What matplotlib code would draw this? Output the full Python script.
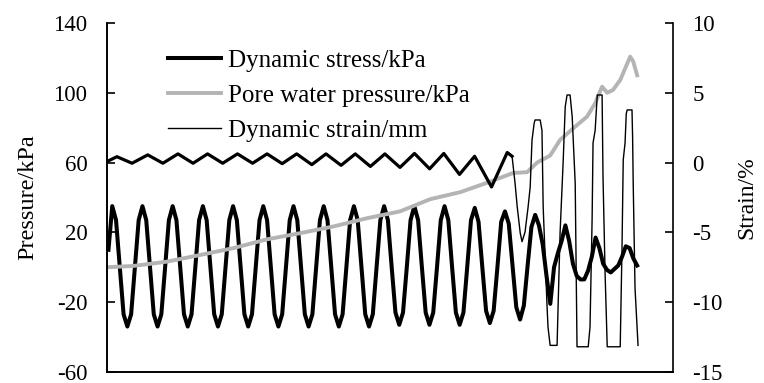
import numpy as np
import matplotlib
import matplotlib.pyplot as plt

matplotlib.rcParams['font.family'] = 'serif'
matplotlib.rcParams['font.serif'] = ['Liberation Serif', 'DejaVu Serif']
matplotlib.rcParams['font.size'] = 16.5
matplotlib.rcParams['axes.unicode_minus'] = False

# dynamic stress (kPa), read every 1/8 cycle starting at cycle 0.05
stress = [
    10, 35, 27, 0, -27, -34, -27, 0,
    27, 35, 27, 0, -27, -34, -27, 0,
    27, 35, 27, 0, -27, -34, -27, 0,
    27, 35, 27, 0, -27, -34, -27, 0,
    27, 35, 27, 0, -27, -34, -27, 0,
    27, 35, 27, 0, -27, -34, -27, 0,
    27, 35, 27, 0, -27, -34, -27, 0,
    27, 35, 27, 0, -27, -34, -27, 0,
    27, 35, 27, 0, -27, -34, -27, 0,
    27, 35, 27, 0, -26, -33, -26, 0,
    27, 35, 27, 0, -26, -33, -26, 0,
    27, 35, 27, 0, -26, -33, -26, 0,
    27, 34, 26, 0, -25, -32, -25, 0,
    26, 32, 25, 1, -23, -30, -22, 1,
    23, 30, 24, 13, -5, -21, 0, 8,
    15, 24, 15, 2, -5, -7, -7, -2,
    6, 17, 11, 2, -1.5, -3, -1, 1,
    6, 12, 11, 5, 1,
]
stress_start = 0.05
stress_step = 0.125

# pore water pressure (kPa) against cycle number
pore_t = [0.0, 0.86, 1.99, 3.08, 4.17, 5.30, 6.39, 7.48, 8.61, 9.70, 10.70,
          11.69, 12.68, 13.44, 13.91, 14.24, 14.67, 15.00, 15.50, 15.89,
          16.16, 16.39, 16.56, 16.75, 16.99, 17.32, 17.42, 17.55]
pore = [0, 0.7, 3.2, 7, 10.9, 16, 19.5, 23.3, 28.1, 32, 39,
        43, 49, 54, 54.5, 60, 64, 73, 80.6, 86.3,
        94, 103.5, 100, 101.6, 107.3, 120.7, 118, 110]

# dynamic strain (%) against cycle number
strain_t = [0.00, 0.33, 0.83, 1.35, 1.85, 2.35, 2.85, 3.33, 3.83, 4.32, 4.82,
            5.30, 5.80, 6.28, 6.78, 7.25, 7.75, 8.22, 8.72, 9.20, 9.70,
            10.18, 10.68, 11.15, 11.67, 12.17, 12.73, 13.25, 13.41,
            13.51, 13.58, 13.68, 13.74, 13.84, 13.94, 14.01, 14.07, 14.14,
            14.17, 14.34, 14.40, 14.44, 14.57, 14.60, 14.67, 14.90, 14.93,
            15.00, 15.10, 15.17, 15.23, 15.33, 15.40, 15.50, 15.56, 15.93,
            15.99, 16.06, 16.09, 16.16, 16.23, 16.39, 16.42, 16.49, 16.56,
            16.99, 17.05, 17.09, 17.15, 17.19, 17.22, 17.38, 17.40, 17.42,
            17.48, 17.58]
strain = [0.07, 0.42, -0.05, 0.55, -0.05, 0.62, -0.05, 0.62, -0.05, 0.62, -0.05,
          0.62, -0.08, 0.62, -0.15, 0.62, -0.2, 0.62, -0.28, 0.62, -0.35,
          0.65, -0.45, 0.65, -0.85, 0.45, -1.75, 0.72, 0.45,
          -1.5, -3.16, -5.05, -5.67, -4.97, -3.2, -1.75, 1.6, 2.8,
          3.05, 3.05, 2.3, -3.2, -10.4, -11.8, -13.1, -13.1, -10.6,
          -5.0, 0.0, 4.0, 4.84, 4.84, 3.3, -1.5, -13.2, -13.2,
          -11.8, -4.0, 1.4, 2.3, 4.84, 4.84, -1.0, -8.0, -13.2,
          -13.2, -6.0, 0.2, 1.4, 3.5, 3.77, 3.77, 1.8, -1.5,
          -9.0, -13.1]
ripple_end = 28  # the small-amplitude part is drawn heavier in the original

stress_t = stress_start + stress_step * np.arange(len(stress))

fig, ax = plt.subplots(figsize=(7.64, 3.83), dpi=100)
fig.subplots_adjust(left=0.140, right=0.881, bottom=0.029, top=0.940)
ax2 = ax.twinx()

l1, = ax.plot(stress_t, stress, color='black', lw=2.9, solid_joinstyle='round',
              label='Dynamic stress/kPa')
l2, = ax.plot(pore_t, pore, color='#b4b4b4', lw=2.8, label='Pore water pressure/kPa')
ax2.plot(strain_t[:ripple_end + 1], strain[:ripple_end + 1], color='black', lw=2.3,
         solid_joinstyle='round')
l3, = ax2.plot(strain_t[ripple_end:], strain[ripple_end:], color='black', lw=1.0,
               label='Dynamic strain/mm')

ax.set_xlim(0, 18.74)
ax.set_ylim(-60, 140)
ax.set_yticks(np.arange(-60, 141, 40))
ax2.set_ylim(-15, 10)
ax2.set_yticks(np.arange(-15, 11, 5))
ax.set_xticks([])

for a in (ax, ax2):
    a.spines['top'].set_visible(False)
    for s in a.spines.values():
        s.set_linewidth(1.2)
    a.tick_params(axis='y', direction='in', length=6, width=1.2, pad=14)
ax.spines['right'].set_visible(False)

ax.set_ylabel('Pressure/kPa', labelpad=11, fontsize=17.5)
ax2.set_ylabel('Strain/%', labelpad=10, fontsize=17)

ax2.legend([l1, l2, l3], [l1.get_label(), l2.get_label(), l3.get_label()],
           loc='upper left', bbox_to_anchor=(0.108, 0.925), frameon=False,
           borderpad=0, borderaxespad=0, handlelength=2.1, handletextpad=0.3,
           labelspacing=0.5, fontsize=18)

fig.savefig('out.png', dpi=100)
